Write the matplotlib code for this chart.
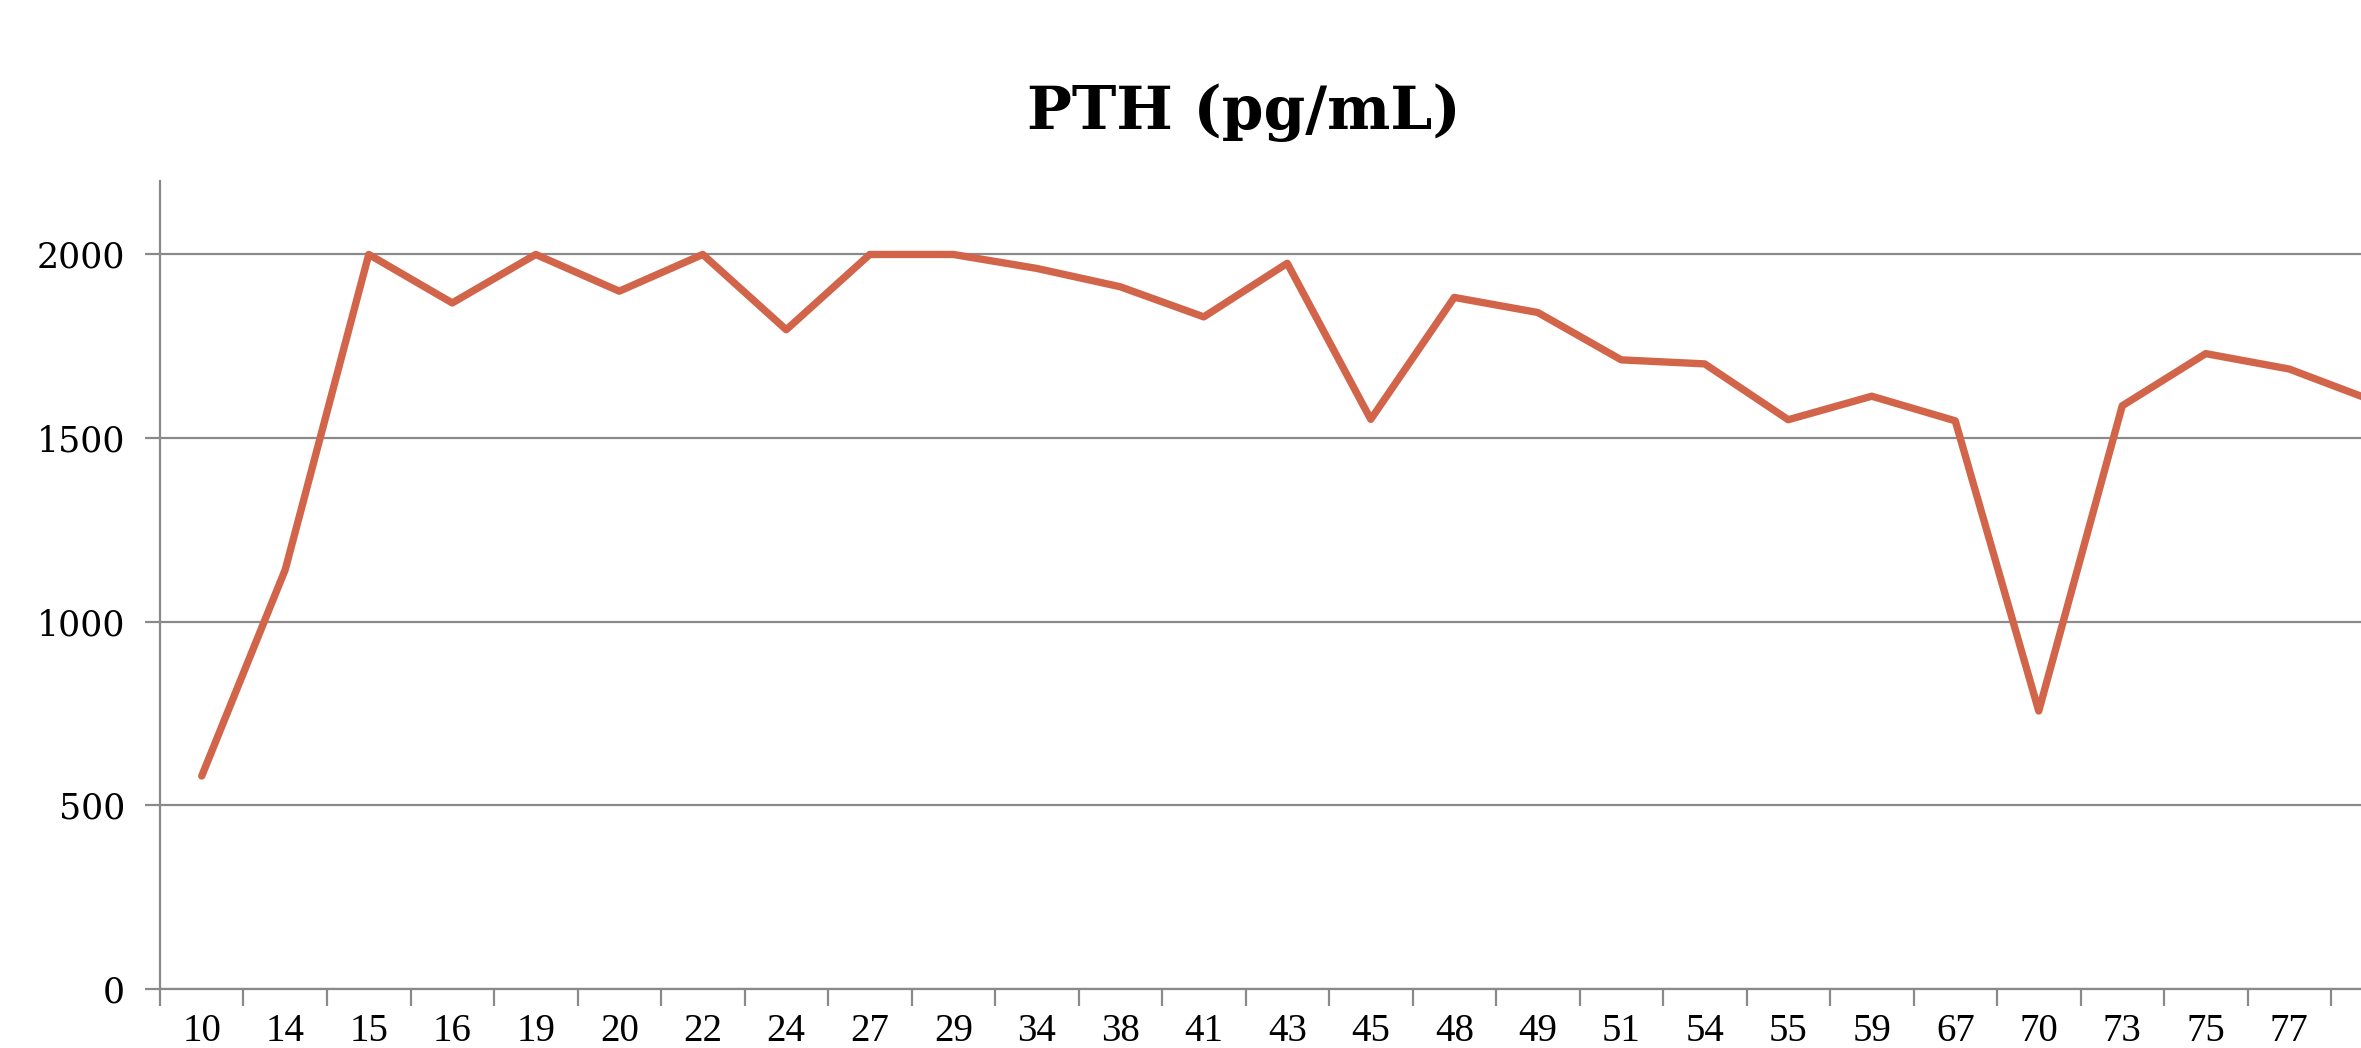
import matplotlib

matplotlib.use("Agg")
import matplotlib.pyplot as plt
import numpy as np
from matplotlib.ticker import FixedLocator, NullFormatter

# Patient ages (category axis) and PTH readings.
# The last category is cut off at the right edge of the picture, label unknown.
ages = ["10", "14", "15", "16", "19", "20", "22", "24", "27", "29", "34", "38", "41",
        "43", "45", "48", "49", "51", "54", "55", "59", "67", "70", "73", "75", "77", ""]
pth = [580, 1142, 2000, 1868, 2000, 1900, 2000, 1795, 2000, 2000, 1962, 1912, 1830,
       1976, 1551, 1883, 1842, 1713, 1702, 1550, 1614, 1547, 757, 1588, 1730, 1688, 1602]
y_ticks = [0, 500, 1000, 1500, 2000]

LINE_COLOR = "#d2644a"
AXIS_GREY = "#8a8a8a"

W, H = 2361, 1048
fig = plt.figure(figsize=(W / 100, H / 100), dpi=100)

# Axes run past the right edge on purpose: the reference is cropped there.
ax = fig.add_axes([160 / W, 1 - 989 / H, 27 * 83.5 / W, (989 - 181) / H])

x = np.arange(len(ages))
ax.plot(x, pth, color=LINE_COLOR, lw=5.3, solid_joinstyle="round",
        solid_capstyle="round", zorder=3, clip_on=False)

ax.set_xlim(-0.5, len(ages) - 0.5)
ax.set_ylim(0, 2200)

for s in ("top", "right"):
    ax.spines[s].set_visible(False)
for s in ("left", "bottom"):
    ax.spines[s].set_color(AXIS_GREY)
    ax.spines[s].set_linewidth(1.6)

ax.set_yticks(y_ticks)
ax.set_yticklabels([str(v) for v in y_ticks], family="DejaVu Serif", fontsize=25)
ax.yaxis.grid(True, color=AXIS_GREY, lw=1.6)
ax.set_axisbelow(True)
ax.tick_params(axis="y", length=11, width=1.6, color=AXIS_GREY, pad=14)

ax.set_xticks(x)
ax.set_xticklabels(ages, family="Liberation Serif", fontsize=28)
ax.tick_params(axis="x", which="major", length=0, pad=17)
ax.xaxis.set_minor_locator(FixedLocator(np.arange(-0.5, len(ages), 1.0)))
ax.xaxis.set_minor_formatter(NullFormatter())
ax.tick_params(axis="x", which="minor", length=12, width=1.6, color=AXIS_GREY)

fig.text(1244 / W, 1 - 113 / H, "PTH (pg/mL)", family="DejaVu Serif",
         fontweight="bold", fontsize=43, ha="center", va="center")

fig.savefig("out.png", dpi=100)
